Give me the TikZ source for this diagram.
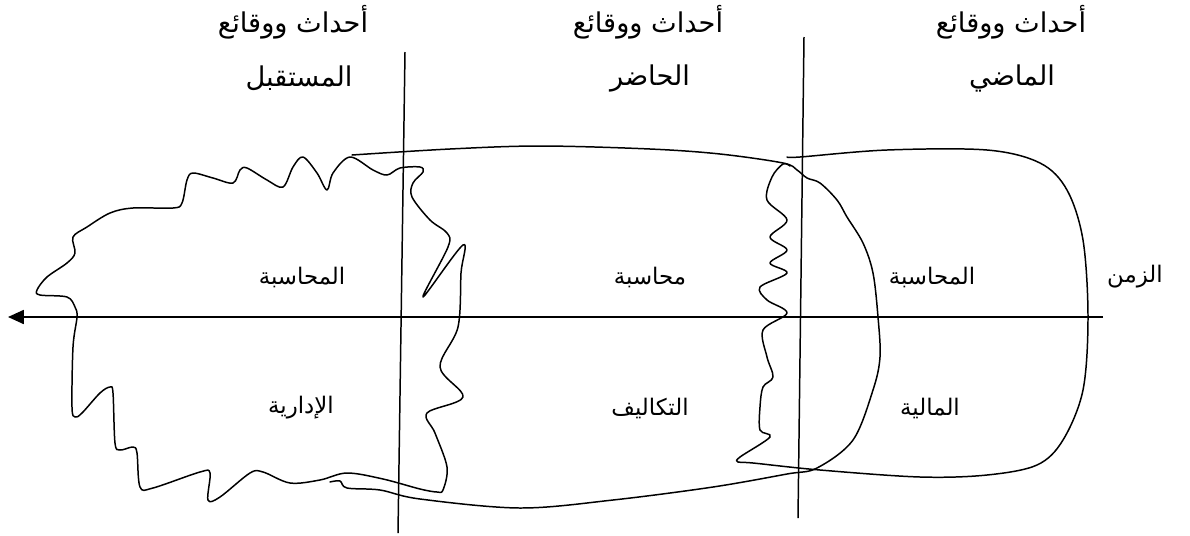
\documentclass[tikz,border=0pt]{standalone}
\usepackage{fontspec}
\usetikzlibrary{arrows.meta}
\TeXXeTstate=1
\newfontfamily\arabicfont[Script=Arabic]{DejaVu Sans}
\newcommand{\artext}[1]{{\arabicfont\beginR #1\endR}}
\tikzset{
  lbl/.style={inner sep=1pt, font=\fontsize{13}{15}\selectfont},
  head/.style={inner sep=1pt, font=\fontsize{15.5}{18}\selectfont},
  hand/.style={line width=0.85pt, line join=round, line cap=round},
  rule/.style={line width=0.85pt}
}
\begin{document}
\begin{tikzpicture}[x=0.02cm, y=-0.02cm]
\useasboundingbox (0,0) rectangle (1190,535);

% headers
\node[head] (hF1) at (293,22) {\artext{أحداث ووقائع}};
\node[head] (hF2) at (299,78) {\artext{المستقبل}};
\node[head] (hN1) at (648,22) {\artext{أحداث ووقائع}};
\node[head] (hN2) at (650,78) {\artext{الحاضر}};
\node[head] (hP1) at (1011,22) {\artext{أحداث ووقائع}};
\node[head] (hP2) at (1012,78) {\artext{الماضي}};

% inner labels
\node[lbl] (lF1) at (302,277) {\artext{المحاسبة}};
\node[lbl] (lF2) at (301,408) {\artext{الإدارية}};
\node[lbl] (lN1) at (650,277) {\artext{محاسبة}};
\node[lbl] (lN2) at (650,408) {\artext{التكاليف}};
\node[lbl] (lP1) at (932,277) {\artext{المحاسبة}};
\node[lbl] (lP2) at (930,408) {\artext{المالية}};
\node[lbl] (time) at (1135,277) {\artext{الزمن}};

% axis and dividers
\coordinate (axR) at (1103,317);
\coordinate (axL) at (8,317);
\coordinate (v1t) at (405,52);
\coordinate (v1b) at (398,533);
\coordinate (v2t) at (804,37);
\coordinate (v2b) at (798,518);
\draw[rule, -{Triangle[length=9pt, width=8pt]}] (axR) -- (axL);
\draw[rule] (v1t) -- (v1b);
\draw[rule] (v2t) -- (v2b);

% left blob (future)
\draw[hand] plot[smooth cycle, tension=0.55] coordinates {
(350,157) (373,170) (387,175) (400,168) (420,167) (423,172) (413,183) (412,197)
(430,220) (447,233) (448,247) (423,297) (463,245) (461,273) (458,327) (440,367)
(463,397) (427,413) (435,433) (447,467) (443,490) (437,492) (420,489) (383,479)
(347,473) (320,480) (290,483) (263,472) (250,473) (220,497) (208,500) (210,473)
(200,472) (153,488) (140,487) (137,453) (133,447) (120,450) (115,443) (113,393)
(110,387) (100,393) (82,413) (75,417) (72,407) (73,347) (77,317) (75,307)
(67,297) (40,295) (37,290) (47,277) (67,263) (75,253) (73,237) (87,227)
(110,213) (133,208) (173,208) (182,203) (187,180) (193,173) (213,178) (233,183)
(240,170) (247,168) (267,180) (283,187) (293,167) (303,157) (317,173) (327,190)
(333,173)};

% middle shape (present)
\draw[hand] plot[smooth, tension=0.55] coordinates {
(330,482) (340,481) (347,488) (380,490) (420,499) (520,508) (613,500) (713,487)
(787,474) (817,468) (853,440) (873,390) (880,357) (878,317) (873,273) (863,243)
(847,217) (837,200) (820,183) (807,178) (797,170) (783,163) (720,154) (650,149)
(540,146) (450,149) (352,155)};

% right shape (past)
\draw[hand] plot[smooth, tension=0.55] coordinates {
(787,157) (800,157) (887,150) (987,150) (1040,163) (1067,190) (1083,240) (1088,317)
(1083,390) (1063,440) (1037,465) (987,475) (920,477) (820,470) (753,463) (738,462)
(740,457) (770,437) (760,430) (760,407) (763,387) (773,377) (767,357) (763,330)
(787,313) (767,300) (760,287) (787,273) (770,263) (787,250) (770,237) (787,220)
(767,200) (772,177) (783,164) (790,166)};
\end{tikzpicture}
\end{document}
